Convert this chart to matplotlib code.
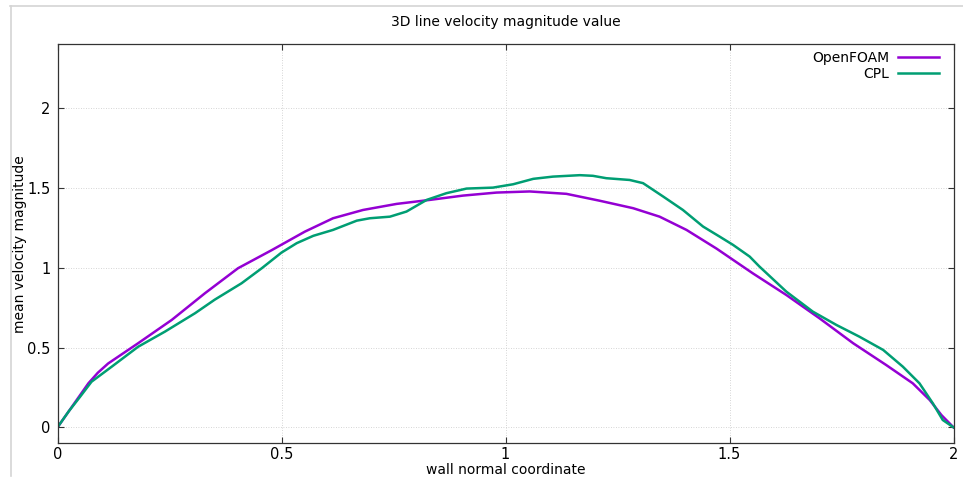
import matplotlib
matplotlib.use("Agg")
import matplotlib.pyplot as plt
from matplotlib.lines import Line2D

plt.rcParams['font.family'] = ['DejaVu Sans']

title = "3D line velocity magnitude value"
xlabel = "wall normal coordinate"
ylabel = "mean velocity magnitude"

openfoam_x = [0.0, 0.025, 0.050, 0.069, 0.090, 0.113, 0.180, 0.255, 0.329, 0.403, 0.478, 0.552,
              0.615, 0.682, 0.757, 0.831, 0.905, 0.980, 1.054, 1.136, 1.210, 1.285,
              1.344, 1.404, 1.471, 1.552, 1.627, 1.701, 1.776, 1.850, 1.909, 1.947,
              1.973, 2.0]
openfoam_y = [0.0, 0.10, 0.20, 0.276, 0.342, 0.40, 0.527, 0.673, 0.84, 0.997, 1.11, 1.226,
              1.31, 1.362, 1.40, 1.425, 1.452, 1.471, 1.478, 1.463, 1.42, 1.373,
              1.32, 1.237, 1.12, 0.965, 0.829, 0.683, 0.527, 0.39, 0.276, 0.171,
              0.077, 0.0]

cpl_x = [0.0, 0.025, 0.050, 0.076, 0.121, 0.180, 0.240, 0.307, 0.351, 0.411, 0.456,
         0.500, 0.534, 0.571, 0.615, 0.668, 0.697, 0.742, 0.779, 0.824, 0.868,
         0.913, 0.972, 1.017, 1.062, 1.106, 1.166, 1.195, 1.225, 1.277, 1.307,
         1.352, 1.396, 1.441, 1.478, 1.508, 1.545, 1.567, 1.627, 1.686, 1.739,
         1.790, 1.843, 1.887, 1.924, 1.954, 1.976, 2.0]
cpl_y = [0.0, 0.10, 0.19, 0.286, 0.38, 0.505, 0.60, 0.715, 0.800, 0.903, 0.997,
         1.095, 1.154, 1.20, 1.237, 1.295, 1.31, 1.32, 1.352, 1.425, 1.467,
         1.496, 1.502, 1.523, 1.557, 1.571, 1.58, 1.576, 1.561, 1.55, 1.53,
         1.446, 1.362, 1.258, 1.195, 1.143, 1.07, 1.007, 0.85, 0.725, 0.641,
         0.568, 0.485, 0.38, 0.276, 0.15, 0.046, 0.0]

xticks = [0, 0.5, 1, 1.5, 2]
xticklabels = ["0", "0.5", "1", "1.5", "2"]
yticks = [0, 0.5, 1, 1.5, 2]
yticklabels = ["0", "0.5", "1", "1.5", "2"]

fs = 10
W, H = 963, 480
L, R, T, B = 57.5, 953.5, 44.3, 443.3
fig = plt.figure(figsize=(W/100, H/100), dpi=100)
ax = fig.add_axes([L/W, 1-B/H, (R-L)/W, (B-T)/H])

ax.plot(openfoam_x, openfoam_y, color='#9400D3', lw=1.8, label='OpenFOAM',
        solid_joinstyle='round')
ax.plot(cpl_x, cpl_y, color='#009E73', lw=1.8, label='CPL', solid_joinstyle='round')

ax.set_xlim(0, 2)
ax.set_ylim(-0.1, 2.4)
ax.set_xticks(xticks)
ax.set_xticklabels(xticklabels)
ax.set_yticks(yticks)
ax.set_yticklabels(yticklabels)
ax.tick_params(direction='in', length=4.5, width=0.8, color='#333333',
               labelsize=fs + 0.5, top=True, right=True, labeltop=False, labelright=False)
ax.tick_params(axis='x', pad=3)
ax.tick_params(axis='y', pad=5)
for s in ax.spines.values():
    s.set_color('#333333')
    s.set_linewidth(0.9)
ax.grid(True, color='#c8c8c8', linestyle=(0, (1, 2)), linewidth=0.6)

fig.text((L + R) / 2 / W, 1 - 22 / H, title, fontsize=fs, ha='center', va='center')
ax.set_xlabel(xlabel, fontsize=fs, va='center')
ax.xaxis.set_label_coords(0.5, -(469.5 - B) / (B - T))
ax.set_ylabel(ylabel, fontsize=fs, va='center')
ax.yaxis.set_label_coords(-(L - 20) / (R - L), 0.5)

leg = ax.legend(loc='upper right', frameon=False, markerfirst=False, fontsize=fs,
                handlelength=2.95, handletextpad=0.65, labelspacing=0.15,
                borderaxespad=0, borderpad=0,
                bbox_to_anchor=((939 - L) / (R - L), (B - 51) / (B - T)))

fig.add_artist(Line2D([10/W, 1.0], [1-6/H, 1-6/H], color='#d4d4d4', lw=1.2,
                      transform=fig.transFigure))
fig.add_artist(Line2D([10.5/W, 10.5/W], [1-6/H, 1-476/H], color='#d4d4d4', lw=1.2,
                      transform=fig.transFigure))

fig.savefig('out.png', dpi=100)
